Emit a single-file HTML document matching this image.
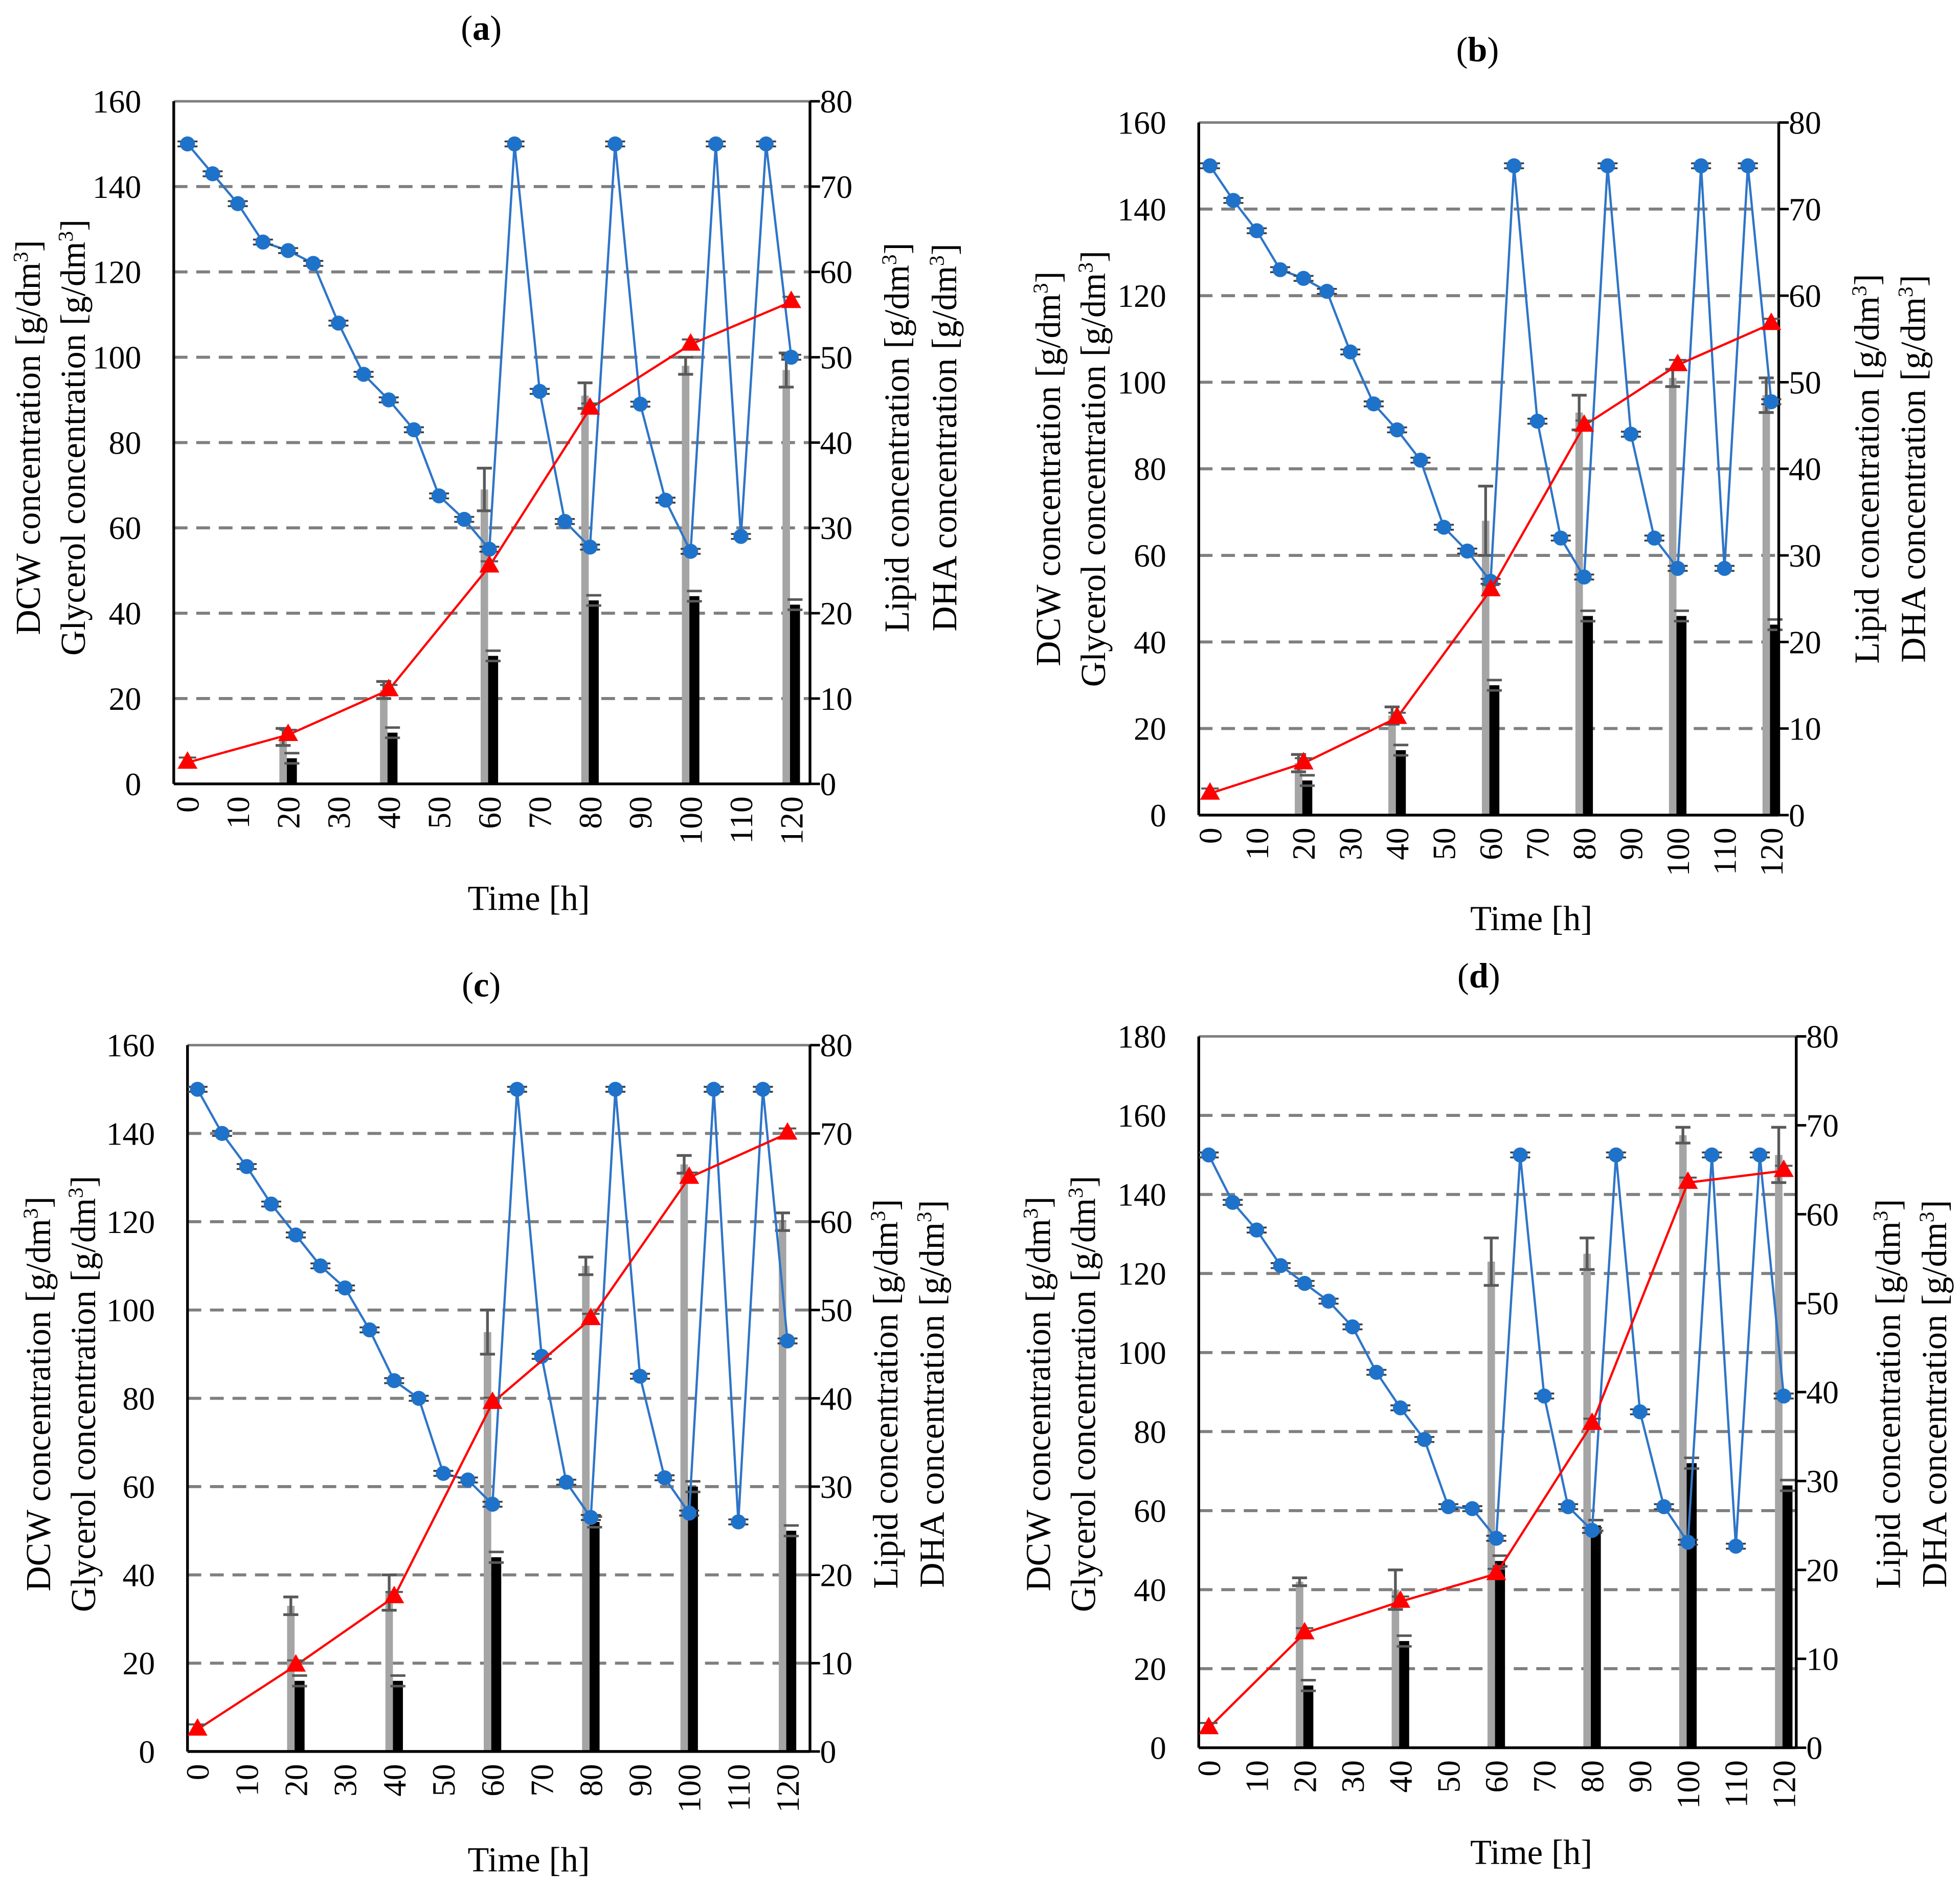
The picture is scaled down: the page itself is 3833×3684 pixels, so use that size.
<!DOCTYPE html>
<html><head><meta charset="utf-8">
<style>
html,body{margin:0;padding:0;background:#fff;}
svg{display:block;}
text{font-family:"Liberation Serif",serif;fill:#000;}
</style></head>
<body>
<svg id="chart" width="3833" height="3684" viewBox="0 0 1568 1507" preserveAspectRatio="none" xmlns="http://www.w3.org/2000/svg"></svg>
<script>
// ---- data ----
const glyTimes = [0,5,10,15,20,25,30,35,40,45,50,55,60,65,70,75,80,85,90,95,100,105,110,115,120];
const sampleTimes = [0,20,40,60,80,100,120];
const barTimes = [20,40,60,80,100,120];
const xTickLabels = [0,10,20,30,40,50,60,70,80,90,100,110,120];

const glyA = [150,143,136,127,125,122,108,96,90,83,67.5,62,55,150,92,61.5,55.5,150,89,66.5,54.5,150,58,150,100];
const lipA = [5,11.5,22,51,88,103,113];
const dcwA = [11,22,69,91,98,97];
const dcwErrA = [2,2,5,3,2,4];
const dhaA = [3,6,15,21.5,22,21];

const glyB = [150,142,135,126,124,121,107,95,89,82,66.5,61,54,150,91,64,55,150,88,64,57,150,57,150,95.5];
const lipB = [5,12,22.5,52,90,104,113.5];
const dcwB = [12,23,68,93,101,97];
const dcwErrB = [2,2,8,4,2,4];
const dhaB = [4,7.5,15,23,23,22];

const glyC = [150,140,132.5,124,117,110,105,95.5,84,80,63,61.5,56,150,89.5,61,53,150,85,62,54,150,52,150,93];
const lipC = [5,19.5,35,79,98,130,140];
const dcwC = [33,36,95,110,133,120];
const dcwErrC = [2,4,5,2,2,2];
const dhaC = [8,8,22,26,30,25];

const glyD = [150,138,131,122,117.5,113,106.5,95,86,78,61,60.5,53,150,89,61,55,150,85,61,52,150,51,150,89];
const lipD = [5,29,37,44,82,143,146];
const dcwD = [42,40,123,125,155,150];
const dcwErrD = [1,5,6,4,2,7];
const dhaD = [7,12,21,25,32,29.5];

// ---- layout (not data) ----
const panels = [
 {id:'a',L:139,R:648,T:81,B:627,x0:150,x120:633,lmax:160,lstep:20,rmax:80,gly:glyA,lip:lipA,dcw:dcwA,dcwErr:dcwErrA,dha:dhaA,
  title:[385,32],xl:[423,728],lt:[22,58,350],rt:[717,755,350]},
 {id:'b',L:959,R:1423,T:98,B:652,x0:968,x120:1417,lmax:160,lstep:20,rmax:80,gly:glyB,lip:lipB,dcw:dcwB,dcwErr:dcwErrB,dha:dhaB,
  title:[1182,49],xl:[1225,744],lt:[838,874,375],rt:[1493,1530,375]},
 {id:'c',L:150,R:648,T:836,B:1401,x0:158,x120:630,lmax:160,lstep:20,rmax:80,gly:glyC,lip:lipC,dcw:dcwC,dcwErr:dcwErrC,dha:dhaC,
  title:[385,797],xl:[423,1497],lt:[30,66,1115],rt:[708,745,1115]},
 {id:'d',L:959,R:1437,T:829,B:1398,x0:967,x120:1427,lmax:180,lstep:20,rmax:80,gly:glyD,lip:lipD,dcw:dcwD,dcwErr:dcwErrD,dha:dhaD,
  title:[1183,790],xl:[1225,1491],lt:[830,866,1115],rt:[1510,1547,1115]}
];

const NS='http://www.w3.org/2000/svg';
const svg=document.getElementById('chart');
function mk(tag,attrs,parent){const e=document.createElementNS(NS,tag);for(const k in attrs)e.setAttribute(k,attrs[k]);(parent||svg).appendChild(e);return e;}

panels.forEach(p=>{
  const g=mk('g',{});
  
  
  const xs=t=>p.x0+(p.x120-p.x0)*t/120;
  const yl=v=>p.B-(p.B-p.T)*v/p.lmax;
  const yr=v=>p.B-(p.B-p.T)*v/p.rmax;

  const tt=mk('text',{x:p.title[0],y:p.title[1],'text-anchor':'middle','font-size':28},g);
  
  
  tt.innerHTML='(<tspan font-weight="bold">'+p.id+'</tspan>)';

  for(let v=p.lstep;v<p.lmax;v+=p.lstep){
    const gl=mk('line',{x1:p.L,x2:p.R,y1:yl(v),y2:yl(v),stroke:'#7f7f7f','stroke-width':2.4,'stroke-dasharray':'11,7'},g);
    
    
  }
  const top=mk('line',{x1:p.L,x2:p.R,y1:p.T,y2:p.T,stroke:'#7f7f7f','stroke-width':2},g);
  
  

  barTimes.forEach((t,i)=>{
    const x=xs(t);
    const gb=mk('rect',{x:x-7,y:yl(p.dcw[i]),width:6,height:p.B-yl(p.dcw[i]),fill:'#a5a5a5'},g);
    
    
    const e1=yl(p.dcw[i]+p.dcwErr[i]),e2=yl(p.dcw[i]-p.dcwErr[i]);
    const eb=mk('path',{d:`M${x-4} ${e1}V${e2}M${x-10} ${e1}H${x+2}M${x-10} ${e2}H${x+2}`,stroke:'#595959','stroke-width':2.2,fill:'none'},g);
    
    
    const bb=mk('rect',{x:x-1,y:yr(p.dha[i]),width:8,height:p.B-yr(p.dha[i]),fill:'#000'},g);
    
    
    const d1=yr(p.dha[i]+0.6),d2=yr(p.dha[i]-0.6);
    const db=mk('path',{d:`M${x-3} ${d1}H${x+9}M${x-3} ${d2}H${x+9}`,stroke:'#595959','stroke-width':2,fill:'none'},g);
    
    
  });

  const la=mk('line',{x1:p.L,x2:p.L,y1:p.T,y2:p.B,stroke:'#000','stroke-width':2.2},g);
  
  
  const ra=mk('line',{x1:p.R,x2:p.R,y1:p.T,y2:p.B,stroke:'#000','stroke-width':2.2},g);
  
  
  const ba=mk('line',{x1:p.L,x2:p.R,y1:p.B,y2:p.B,stroke:'#000','stroke-width':2.2},g);
  
  

  for(let v=0;v<=p.lmax;v+=p.lstep){
    const tl=mk('text',{x:p.L-26,y:yl(v)+9,'text-anchor':'end','font-size':26},g);
    
    
    tl.textContent=v;
  }
  for(let v=0;v<=p.rmax;v+=10){
    const tk=mk('line',{x1:p.R,x2:p.R+8,y1:yr(v),y2:yr(v),stroke:'#000','stroke-width':2},g);
    
    
    const tl=mk('text',{x:p.R+8,y:yr(v)+9,'text-anchor':'start','font-size':26},g);
    
    
    tl.textContent=v;
  }
  xTickLabels.forEach(t=>{
    const x=xs(t);
    const tl=mk('text',{x:0,y:0,'text-anchor':'end','font-size':26,transform:`translate(${x+9},${p.B+10}) rotate(-90)`},g);
    
    
    tl.textContent=t;
  });

  const xt=mk('text',{x:p.xl[0],y:p.xl[1],'text-anchor':'middle','font-size':28},g);
  
  
  xt.textContent='Time [h]';
  const titles=[[p.lt[0],p.lt[2],'DCW concentration [g/dm','dcw-axis-title'],[p.lt[1],p.lt[2],'Glycerol concentration [g/dm','glycerol-axis-title'],
                [p.rt[0],p.rt[2],'Lipid concentration [g/dm','lipid-axis-title'],[p.rt[1],p.rt[2],'DHA concentration [g/dm','dha-axis-title']];
  titles.forEach(a=>{
    const t=mk('text',{x:0,y:0,'text-anchor':'middle','font-size':28,transform:`translate(${a[0]+10},${a[1]}) rotate(-90)`},g);
    
    
    t.innerHTML=a[2]+'<tspan dy="-10" font-size="17">3</tspan><tspan dy="10">]</tspan>';
  });

  const gp=glyTimes.map((t,i)=>`${i?'L':'M'}${xs(t)} ${yl(p.gly[i])}`).join('');
  const gline=mk('path',{d:gp,stroke:'#2e75c8','stroke-width':1.8,fill:'none'},g);
  
  
  glyTimes.forEach((t,i)=>{
    const x=xs(t),y=yl(p.gly[i]);
    const eb=mk('path',{d:`M${x-8} ${y-2}H${x+8}M${x-8} ${y+2}H${x+8}`,stroke:'#404040','stroke-width':1.5},g);
    
    
    const c=mk('circle',{cx:x,cy:y,r:6,fill:'#1f72c9'},g);
    
    
  });

  const lp=sampleTimes.map((t,i)=>`${i?'L':'M'}${xs(t)} ${yl(p.lip[i])}`).join('');
  const lline=mk('path',{d:lp,stroke:'#ff0000','stroke-width':1.8,fill:'none'},g);
  
  
  sampleTimes.forEach((t,i)=>{
    const x=xs(t),y=yl(p.lip[i]);
    const eb=mk('path',{d:`M${x-7} ${y-4}H${x+7}M${x-7} ${y+4}H${x+7}`,stroke:'#595959','stroke-width':1.6},g);
    
    
    const tr=mk('path',{d:`M${x} ${y-9}L${x+8} ${y+5}L${x-8} ${y+5}Z`,fill:'#ff0000'},g);
    
    
  });
});
</script>
</body></html>
